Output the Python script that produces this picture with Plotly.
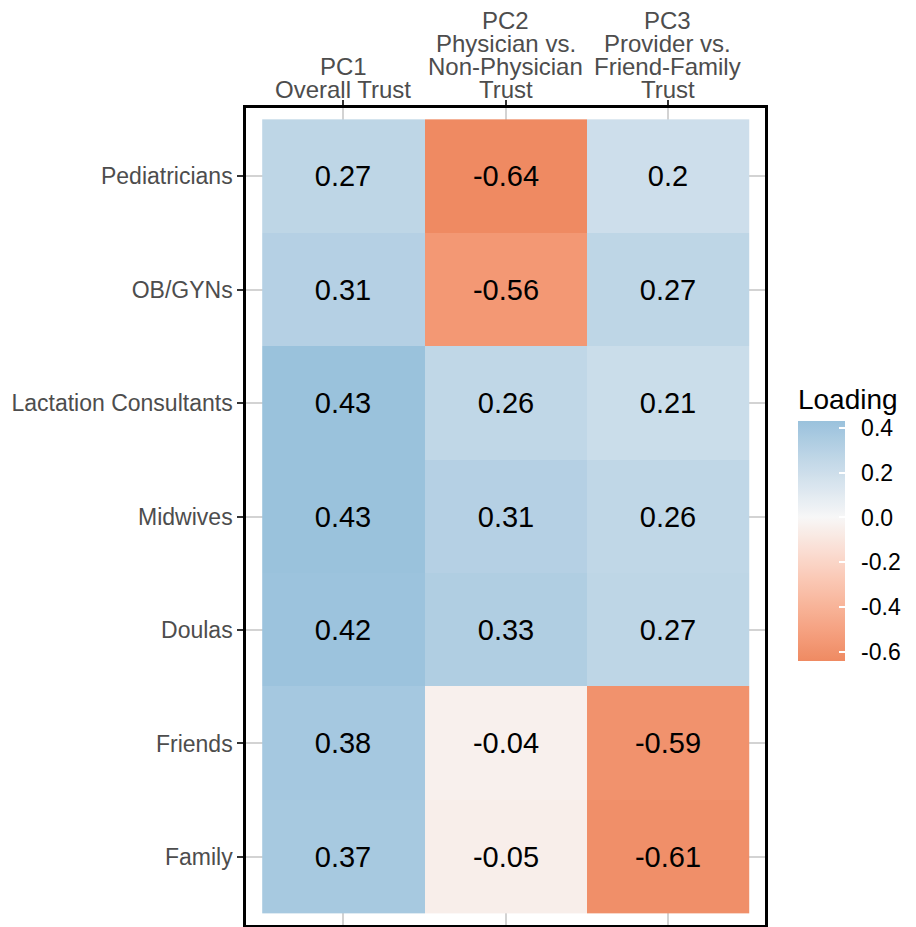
import numpy as np
import plotly.graph_objects as go

# ---- data ----
rows = ["Pediatricians", "OB/GYNs", "Lactation Consultants", "Midwives",
        "Doulas", "Friends", "Family"]
col_keys = ["PC1", "PC2", "PC3"]
col_labels = [["PC1", "Overall Trust"],
              ["PC2", "Physician vs.", "Non-Physician", "Trust"],
              ["PC3", "Provider vs.", "Friend-Family", "Trust"]]
pc1 = [0.27, 0.31, 0.43, 0.43, 0.42, 0.38, 0.37]
pc2 = [-0.64, -0.56, 0.26, 0.31, 0.33, -0.04, -0.05]
pc3 = [0.20, 0.27, 0.21, 0.26, 0.27, -0.59, -0.61]
cbar_ticks = [0.4, 0.2, 0.0, -0.2, -0.4, -0.6]

low_col = "#EF8A62"
mid_col = "#F7F7F7"
high_col = "#67A9CF"

# ---- colour scale (gradient2-like, Lab interpolation) ----
def hex2rgb(h):
    h = h.lstrip("#")
    return np.array([int(h[i:i + 2], 16) for i in (0, 2, 4)], float) / 255


def srgb2lin(c):
    return np.where(c <= 0.04045, c / 12.92, ((c + 0.055) / 1.055) ** 2.4)


def lin2srgb(c):
    c = np.clip(c, 0, 1)
    return np.where(c <= 0.0031308, c * 12.92, 1.055 * c ** (1 / 2.4) - 0.055)


M = np.array([[0.4124, 0.3576, 0.1805], [0.2126, 0.7152, 0.0722], [0.0193, 0.1192, 0.9505]])
Minv = np.linalg.inv(M)
WP = np.array([0.95047, 1.0, 1.08883])


def f(t):
    return np.where(t > (6 / 29) ** 3, np.cbrt(t), t / (3 * (6 / 29) ** 2) + 4 / 29)


def finv(t):
    return np.where(t > 6 / 29, t ** 3, 3 * (6 / 29) ** 2 * (t - 4 / 29))


def rgb2lab(rgb):
    xyz = M @ srgb2lin(rgb) / WP
    fx, fy, fz = f(xyz)
    return np.array([116 * fy - 16, 500 * (fx - fy), 200 * (fy - fz)])


def lab2rgb(lab):
    L, a, b = lab
    fy = (L + 16) / 116
    fx = fy + a / 500
    fz = fy - b / 200
    xyz = np.array([finv(fx), finv(fy), finv(fz)]) * WP
    return lin2srgb(Minv @ xyz)


def to_hex(rgb):
    r, g, b = (np.round(rgb * 255)).astype(int)
    return f"#{r:02x}{g:02x}{b:02x}"


z = np.array([pc1, pc2, pc3]).T
zmin, zmax = float(z.min()), float(z.max())
span = max(abs(zmin), abs(zmax))
lab_low, lab_mid, lab_high = rgb2lab(hex2rgb(low_col)), rgb2lab(hex2rgb(mid_col)), rgb2lab(hex2rgb(high_col))
colorscale = []
for v in np.linspace(zmin, zmax, 41):
    t = v / span
    if t < 0:
        lab = lab_mid + (lab_low - lab_mid) * (-t)
    else:
        lab = lab_mid + (lab_high - lab_mid) * t
    colorscale.append([(v - zmin) / (zmax - zmin), to_hex(lab2rgb(lab))])
colorscale[0][0] = 0.0
colorscale[-1][0] = 1.0

text = [[f"{v:g}" for v in r] for r in z]

FONT = "Liberation Sans, Arial, sans-serif"
NB = "\u00a0\u2009"

fig = go.Figure(go.Heatmap(
    z=z, x=col_keys, y=rows, text=text, texttemplate="%{text}",
    textfont=dict(family=FONT, size=29, color="black"),
    colorscale=colorscale, zmin=zmin, zmax=zmax, xgap=0, ygap=0,
    hoverinfo="skip",
    colorbar=dict(
        title=dict(text="Loading", side="top", font=dict(family=FONT, size=28, color="black")),
        tickvals=cbar_ticks, ticktext=[NB + f"{v:.1f}" for v in cbar_ticks],
        tickfont=dict(family=FONT, size=23, color="black"),
        ticks="inside", ticklen=6, tickcolor="white", tickwidth=1.5,
        outlinewidth=0, thickness=47, thicknessmode="pixels",
        lenmode="pixels", len=276,
        xref="container", x=0.870, xanchor="left", xpad=0,
        yref="paper", y=0.492, yanchor="middle", ypad=0,
    ),
))

fig.update_xaxes(
    side="top", range=[-0.6, 2.6], showticklabels=False, automargin=False,
    ticks="outside", ticklen=5, tickwidth=2, tickcolor="#333333",
    showgrid=True, gridcolor="#D3D3D3", gridwidth=2,
    showline=True, mirror=True, linecolor="black", linewidth=2.5,
    zeroline=False, fixedrange=True,
)
fig.update_yaxes(
    range=[6.6, -0.6], autorange=False, automargin=False,
    ticks="outside", ticklen=6, tickwidth=2, tickcolor="#333333",
    tickfont=dict(family=FONT, size=23, color="#4D4D4D"),
    showgrid=True, gridcolor="#D3D3D3", gridwidth=2,
    showline=True, mirror=True, linecolor="black", linewidth=2.5,
    zeroline=False, fixedrange=True,
)

annotations = []
for key, lines in zip(col_keys, col_labels):
    n = len(lines)
    for i, line in enumerate(lines):
        k = n - 1 - i
        annotations.append(dict(
            x=key, xref="x", y=1, yref="paper", yanchor="middle",
            yshift=19 + k * 22.8, text=line, showarrow=False,
            font=dict(family=FONT, size=24, color="#4D4D4D"),
        ))

fig.update_layout(
    width=908, height=927,
    margin=dict(l=238, r=151, t=100, b=10, pad=0),
    paper_bgcolor="white", plot_bgcolor="white",
    annotations=annotations,
    font=dict(family=FONT),
)

fig.write_html("out.html")
